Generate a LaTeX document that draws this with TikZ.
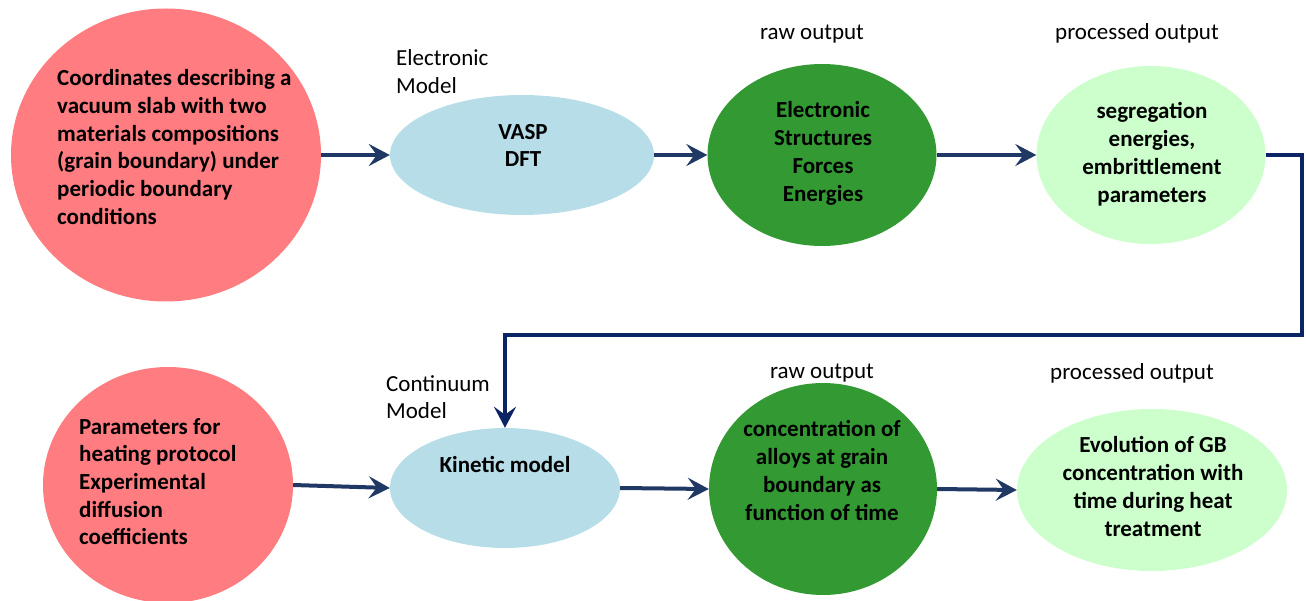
\documentclass[tikz,border=0pt]{standalone}
\usepackage{fontspec}
\setmainfont{Carlito}
\usetikzlibrary{shapes.geometric,arrows.meta}
\definecolor{cred}{HTML}{FF7C80}
\definecolor{cblue}{HTML}{B7DEE8}
\definecolor{cdgreen}{HTML}{339933}
\definecolor{clgreen}{HTML}{CCFFCC}
\definecolor{arrcol}{HTML}{1F3864}
\definecolor{conncol}{HTML}{0A2466}
\begin{document}
\begin{tikzpicture}[x=1pt,y=-1pt,
  blob/.style={ellipse, draw=none, inner sep=0pt},
  txt/.style={font=\fontsize{23}{27.7}\selectfont\bfseries, inner sep=0pt, align=center},
  lbl/.style={font=\fontsize{23}{27.7}\selectfont, inner sep=0pt, align=left},
  arr/.style={draw=arrcol, line width=4pt, -{Stealth[length=21pt,width=22pt,inset=8pt]}},
  conn/.style={draw=conncol, line width=4pt, line join=miter, -{Stealth[length=21pt,width=22pt,inset=8pt]}}
]
\useasboundingbox (0,0) rectangle (1306,601);

% top row shapes
\node[blob, fill=cred, minimum width=310pt, minimum height=293pt] (red1) at (166,155) {};
\node[blob, fill=cblue, minimum width=264pt, minimum height=120pt] (blue1) at (522,155) {};
\node[blob, fill=cdgreen, minimum width=229pt, minimum height=182pt] (dg1) at (822,155) {};
\node[blob, fill=clgreen, minimum width=229pt, minimum height=178pt] (lg1) at (1151,155) {};

% bottom row shapes
\node[blob, fill=cred, minimum width=250pt, minimum height=236pt] (red2) at (168,485) {};
\node[blob, fill=cblue, minimum width=230pt, minimum height=120pt] (kin) at (505,488) {};
\node[blob, fill=cdgreen, minimum width=228pt, minimum height=212pt] (dg2) at (823,489) {};
\node[blob, fill=clgreen, minimum width=270pt, minimum height=162pt] (lg2) at (1152,490) {};

% texts top row
\node[txt, align=left, anchor=west] (t1) at (57,149.5) {\strut Coordinates describing a\\vacuum slab with two\\materials compositions\\(grain boundary) under\\periodic boundary\\\strut conditions};
\node[txt] (t2) at (523,147.5) {\strut VASP\\\strut DFT};
\node[txt] (t3) at (823,154) {\strut Electronic\\Structures\\Forces\\\strut Energies};
\node[txt] (t4) at (1152,155) {\strut segregation\\energies,\\embrittlement\\\strut parameters};
\node[lbl, anchor=west] (l1) at (396,74) {\strut Electronic\\\strut Model};
\node[lbl, align=center] (l2) at (812,33.5) {\strut raw output};
\node[lbl, align=center] (l3) at (1137,33.5) {\strut processed output};

% texts bottom row
\node[txt, align=left, anchor=west] (t5) at (79,484) {\strut Parameters for\\heating protocol\\Experimental\\diffusion\\\strut coefficients};
\node[txt] (t6) at (505,466.5) {\strut Kinetic model};
\node[txt] (t7) at (822,473) {\strut concentration of\\alloys at grain\\boundary as\\\strut function of time};
\node[txt] (t8) at (1153,489) {\strut Evolution of GB\\concentration with\\time during heat\\\strut treatment};
\node[lbl, anchor=west] (l4) at (386,399.5) {\strut Continuum\\\strut Model};
\node[lbl, align=center] (l5) at (822,372.5) {\strut raw output};
\node[lbl, align=center] (l6) at (1132,373.5) {\strut processed output};

% arrows
\draw[arr] (red1.east) -- (blue1.west);
\draw[arr] (blue1.east) -- (dg1.west);
\draw[arr] (dg1.east) -- (lg1.west);
\draw[arr] (red2.east) -- (kin.west);
\draw[arr] (kin.east) -- (dg2.west);
\draw[arr] (dg2.east) -- (lg2.west);

% connector from top row to kinetic model
\coordinate (c1) at (1302,155);
\coordinate (c2) at (1302,335);
\coordinate (c3) at (505,335);
\draw[conn] (lg1.east) -- (c1) -- (c2) -- (c3) -- (kin.north);
\end{tikzpicture}
\end{document}
